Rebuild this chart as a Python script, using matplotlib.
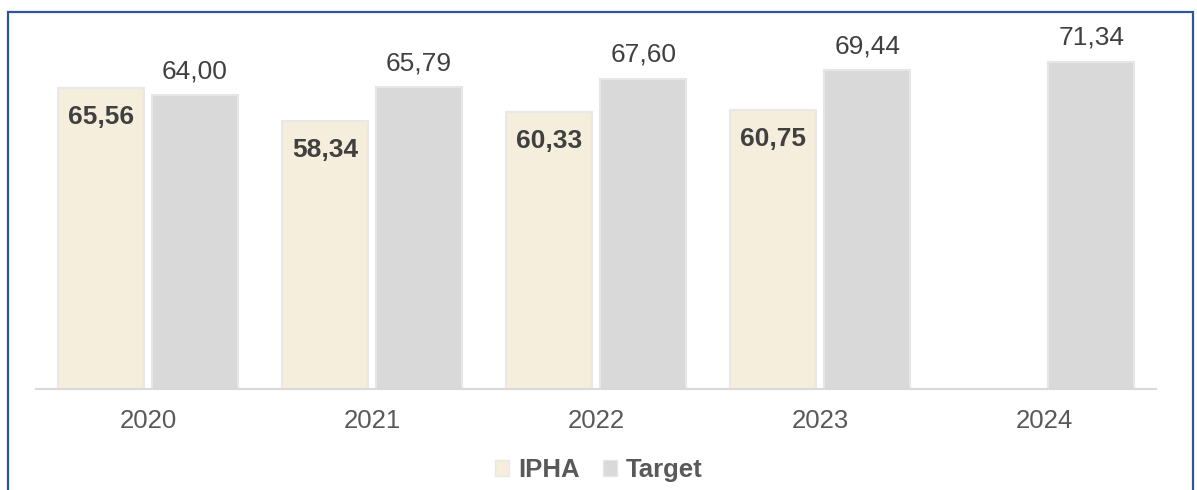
import numpy as np
import matplotlib.pyplot as plt
from matplotlib.patches import Patch, Rectangle

years = ["2020", "2021", "2022", "2023", "2024"]
ipha = [65.56, 58.34, 60.33, 60.75, np.nan]
target = [64.00, 65.79, 67.60, 69.44, 71.34]

ipha_color = "#F5EEDC"
target_color = "#D9D9D9"
text_color = "#404040"
tick_color = "#595959"


def fmt(v):
    return f"{v:.2f}".replace(".", ",")


def main():
    plt.rcParams["font.family"] = ["Liberation Sans", "DejaVu Sans"]
    fig = plt.figure(figsize=(11.97, 4.90), dpi=100)
    ax = fig.add_axes([0.030, 0.206, 0.936, 0.749])

    x = np.arange(len(years))
    off = 0.21
    w = 0.385

    for i in range(len(years)):
        if not np.isnan(ipha[i]):
            ax.bar(x[i] - off, ipha[i], w, color=ipha_color,
                   edgecolor="#E8E8E8", linewidth=1.5, zorder=2)
            ax.annotate(fmt(ipha[i]), (x[i] - off, ipha[i]),
                        xytext=(0, -29), textcoords="offset pixels",
                        ha="center", va="center", fontsize=19,
                        fontweight="bold", color=text_color)
        ax.bar(x[i] + off, target[i], w, color=target_color,
               edgecolor="#E6E6E6", linewidth=1.5, zorder=2)
        ax.annotate(fmt(target[i]), (x[i] + off, target[i]),
                    xytext=(0, 24), textcoords="offset pixels",
                    ha="center", va="center", fontsize=19,
                    color=text_color)

    ax.set_xlim(-0.5, len(years) - 0.5)
    ax.set_ylim(0, 80)
    ax.set_xticks(x)
    ax.set_xticklabels(years, fontsize=18.5, color=tick_color)
    ax.tick_params(axis="x", length=0, pad=14)
    ax.set_yticks([])
    for s in ["top", "right", "left"]:
        ax.spines[s].set_visible(False)
    ax.spines["bottom"].set_color("#D9D9D9")
    ax.spines["bottom"].set_linewidth(1.5)

    handles = [Patch(facecolor=ipha_color, edgecolor="#E8E8E8", label="IPHA"),
               Patch(facecolor=target_color, edgecolor="#E6E6E6", label="Target")]
    leg = fig.legend(handles=handles, loc="center", ncol=2,
                     bbox_to_anchor=(0.5, 0.041), frameon=False,
                     handlelength=0.55, handleheight=0.55, handletextpad=0.35,
                     columnspacing=0.9,
                     prop={"size": 18.5, "weight": "bold"})
    for t in leg.get_texts():
        t.set_color(tick_color)

    # blue frame around the chart
    fig.patches.append(Rectangle((0.0067, -0.05), 0.99, 1.0255, fill=False,
                                 edgecolor="#2F5597", linewidth=1.6,
                                 transform=fig.transFigure, figure=fig))

    fig.savefig("out.png", dpi=100)


if __name__ == "__main__":
    main()
